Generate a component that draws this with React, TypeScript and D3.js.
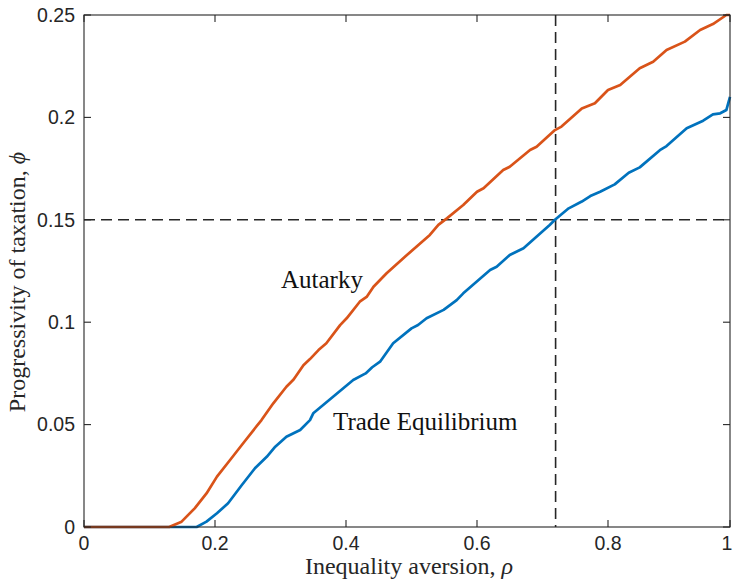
import * as d3 from "d3";

// Autarky curve (orange)
const autarkyRho = [0, 0.13, 0.149, 0.169, 0.187, 0.203, 0.223, 0.243, 0.261, 0.271, 0.289, 0.309, 0.32, 0.335, 0.345, 0.358, 0.37, 0.391, 0.401, 0.421, 0.432, 0.442, 0.462, 0.493, 0.528, 0.541, 0.554, 0.579, 0.6, 0.61, 0.64, 0.65, 0.681, 0.691, 0.719, 0.729, 0.76, 0.78, 0.8, 0.82, 0.852, 0.874, 0.896, 0.926, 0.951, 0.972, 0.994, 1];
const autarkyPhi = [0, 0, 0.0026, 0.0091, 0.0164, 0.0246, 0.0327, 0.0409, 0.0482, 0.0522, 0.0604, 0.0685, 0.072, 0.079, 0.082, 0.0864, 0.0897, 0.0986, 0.1019, 0.11, 0.1125, 0.1173, 0.1239, 0.1328, 0.1426, 0.1475, 0.1507, 0.1572, 0.1637, 0.1654, 0.1743, 0.1759, 0.1841, 0.1857, 0.1938, 0.1955, 0.2044, 0.2069, 0.2134, 0.2158, 0.224, 0.2272, 0.2329, 0.237, 0.2427, 0.2456, 0.25, 0.25];

// Trade equilibrium curve (blue)
const tradeRho = [0, 0.172, 0.187, 0.203, 0.22, 0.241, 0.261, 0.279, 0.292, 0.309, 0.33, 0.345, 0.35, 0.411, 0.43, 0.44, 0.452, 0.472, 0.5, 0.51, 0.523, 0.549, 0.569, 0.579, 0.62, 0.63, 0.65, 0.671, 0.711, 0.719, 0.74, 0.76, 0.773, 0.788, 0.811, 0.834, 0.852, 0.885, 0.896, 0.929, 0.956, 0.972, 0.984, 0.994, 1];
const tradePhi = [0, 0, 0.0026, 0.0067, 0.0116, 0.0205, 0.0287, 0.0343, 0.0392, 0.0441, 0.0474, 0.0522, 0.0555, 0.0718, 0.075, 0.078, 0.0807, 0.0897, 0.097, 0.0986, 0.1019, 0.106, 0.1108, 0.1141, 0.1255, 0.1271, 0.1328, 0.1361, 0.1475, 0.15, 0.1556, 0.1589, 0.1616, 0.1637, 0.1673, 0.173, 0.1756, 0.184, 0.186, 0.1947, 0.1984, 0.2015, 0.202, 0.2036, 0.21];

const xTicks = [0, 0.2, 0.4, 0.6, 0.8, 1];
const yTicks = [0, 0.05, 0.1, 0.15, 0.2, 0.25];

const refRho = 0.72;
const refPhi = 0.15;

const W = 733;
const H = 579;
const left = 84;
const right = 730;
const top = 15;
const bottom = 527;

const axisColor = "#262626";
const tickFont = "'Liberation Sans', Arial, Helvetica, sans-serif";
const labelFont = "'Liberation Serif', 'Times New Roman', serif";

const App = () => {
  // the source figure is squeezed a bit past 0.8, so use a polylinear range
  const x = d3.scaleLinear().domain([0, 0.8, 1]).range([left, 608, right]);
  const y = d3.scaleLinear().domain([0, 0.25]).range([bottom, top]);

  const line = d3
    .line<[number, number]>()
    .x((d) => x(d[0]))
    .y((d) => y(d[1]));

  const autarky = autarkyRho.map((r, i) => [r, autarkyPhi[i]] as [number, number]);
  const trade = tradeRho.map((r, i) => [r, tradePhi[i]] as [number, number]);

  const tickLen = 7;

  return (
    <svg
      width={W}
      height={H}
      style={{ position: "absolute", left: 0, top: 0, background: "#fff" }}
    >
      <rect x={0} y={0} width={W} height={H} fill="#fff" />

      {/* dashed reference lines */}
      <line
        x1={x(refRho)}
        x2={x(refRho)}
        y1={y(0.25)}
        y2={y(0)}
        stroke={axisColor}
        strokeWidth={1.6}
        strokeDasharray="11,6"
      />
      <line
        x1={x(0)}
        x2={x(1)}
        y1={y(refPhi)}
        y2={y(refPhi)}
        stroke={axisColor}
        strokeWidth={1.6}
        strokeDasharray="11,6"
      />

      {/* curves */}
      <path d={line(trade) || ""} fill="none" stroke="#0072BD" strokeWidth={2.7} strokeLinejoin="round" />
      <path d={line(autarky) || ""} fill="none" stroke="#D95319" strokeWidth={2.7} strokeLinejoin="round" />

      {/* frame */}
      <rect
        x={left}
        y={top}
        width={right - left}
        height={bottom - top}
        fill="none"
        stroke={axisColor}
        strokeWidth={1.1}
      />

      {/* x ticks */}
      {xTicks.map((t) => (
        <g key={"x" + t}>
          <line x1={x(t)} x2={x(t)} y1={bottom} y2={bottom - tickLen} stroke={axisColor} strokeWidth={1.1} />
          <line x1={x(t)} x2={x(t)} y1={top} y2={top + tickLen} stroke={axisColor} strokeWidth={1.1} />
          <text
            x={x(t) - (t === 1 ? 3 : 0)}
            y={550}
            textAnchor="middle"
            fontFamily={tickFont}
            fontSize={19.5}
            fill={axisColor}
          >
            {String(t)}
          </text>
        </g>
      ))}

      {/* y ticks */}
      {yTicks.map((t) => (
        <g key={"y" + t}>
          <line x1={left} x2={left + tickLen} y1={y(t)} y2={y(t)} stroke={axisColor} strokeWidth={1.1} />
          <line x1={right} x2={right - tickLen} y1={y(t)} y2={y(t)} stroke={axisColor} strokeWidth={1.1} />
          <text
            x={left - 9}
            y={y(t)}
            dy="0.35em"
            textAnchor="end"
            fontFamily={tickFont}
            fontSize={19.5}
            fill={axisColor}
          >
            {String(t)}
          </text>
        </g>
      ))}

      {/* axis titles */}
      <text
        x={(left + right) / 2 + 2}
        y={574}
        textAnchor="middle"
        fontFamily={labelFont}
        fontSize={24}
        fill={axisColor}
      >
        Inequality aversion, <tspan fontStyle="italic">ρ</tspan>
      </text>
      <text
        transform={`translate(25, ${(top + bottom) / 2 + 11}) rotate(-90)`}
        textAnchor="middle"
        fontFamily={labelFont}
        fontSize={24}
        fill={axisColor}
      >
        Progressivity of taxation, <tspan fontStyle="italic">ϕ</tspan>
      </text>

      {/* annotations */}
      <text x={281} y={288} fontFamily={labelFont} fontSize={25} fill="#111">
        Autarky
      </text>
      <text x={333} y={430} fontFamily={labelFont} fontSize={25} fill="#111">
        Trade Equilibrium
      </text>
    </svg>
  );
};

export default App;
